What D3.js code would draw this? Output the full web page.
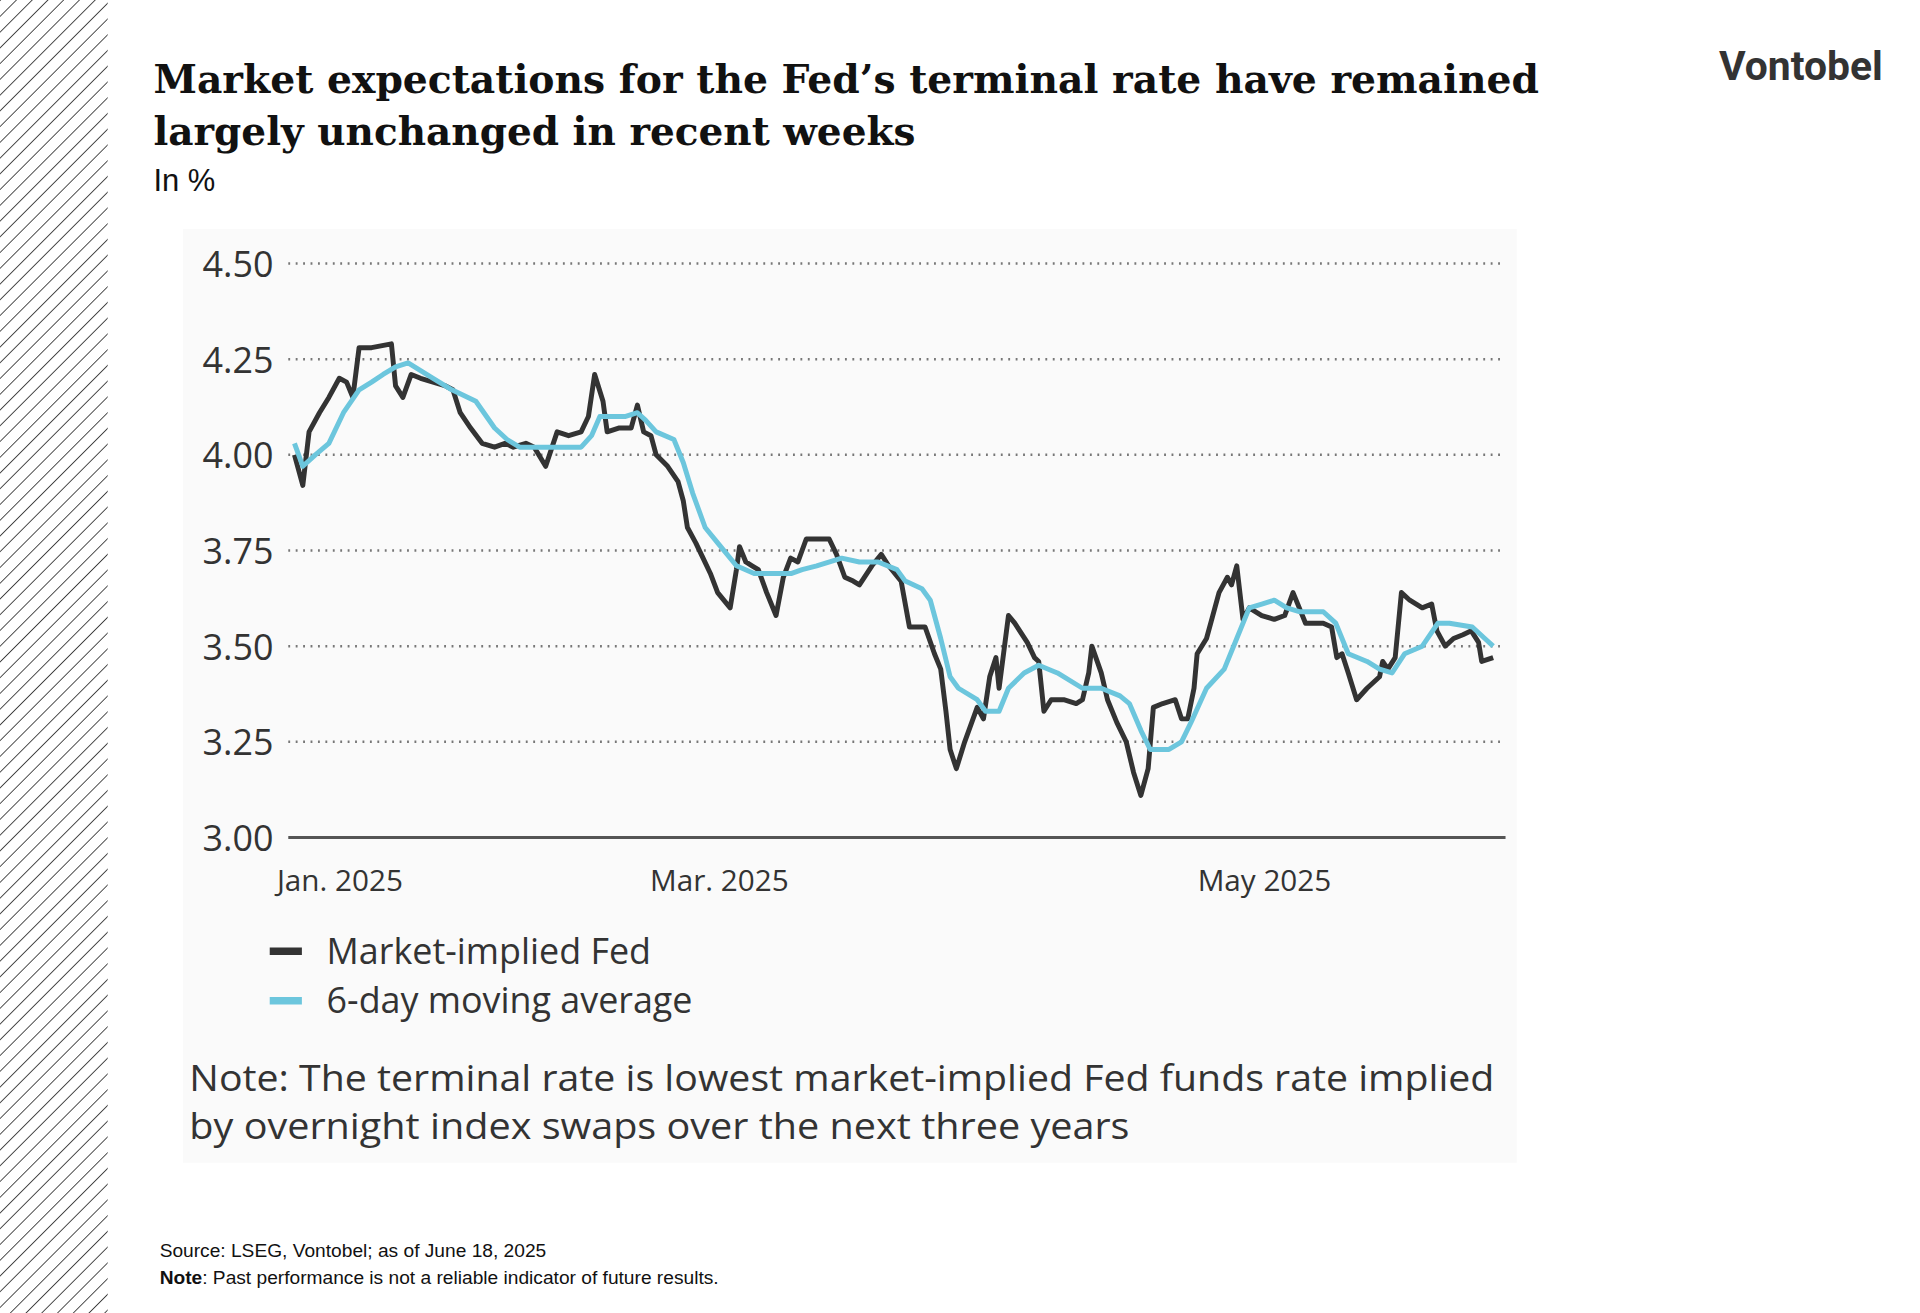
<!DOCTYPE html>
<html>
<head>
<meta charset="utf-8">
<script src="https://cdn.jsdelivr.net/npm/d3@7"></script>
<style>
  html, body { margin: 0; padding: 0; background: #fff; }
  svg { display: block; }
</style>
</head>
<body>
<svg id="chart" width="1920" height="1313"></svg>
<script>
// x values are trading-day positions, y values in %
var fedDay = [0,0.8,1.4,2.4,3.3,4.3,5.0,5.6,6.2,7.4,9.3,9.7,10.4,11.2,12.1,13.3,14.5,15.2,15.9,16.9,18.0,19.2,20.2,21.0,22.2,23.0,24.1,25.2,26.3,27.5,28.2,28.8,29.6,30.0,31.1,32.3,32.9,33.5,34.2,34.7,35.8,36.8,37.3,37.7,38.5,39.2,39.9,40.6,41.8,42.4,42.7,43.3,43.9,44.5,45.3,46.2,46.9,47.6,48.3,49.1,50.1,51.3,52.0,52.8,53.6,54.2,55.4,56.3,57.0,58.2,59.0,60.5,61.4,62.0,62.5,62.9,63.5,64.3,65.5,66.1,66.7,67.3,67.6,68.5,69.1,70.3,71.0,71.4,71.9,72.6,73.8,75.0,75.6,76.2,76.5,77.4,78.0,78.9,79.8,80.5,81.2,81.9,82.4,83.3,84.5,85.1,85.7,86.3,86.6,87.5,88.1,88.7,89.5,89.9,90.4,91.0,91.6,92.8,94.0,95.0,95.8,96.4,97.0,98.7,99.5,100.0,100.5,101.1,101.9,102.9,104.1,104.4,104.9,105.6,106.2,107.0,108.2,109.1,109.6,110.4,111.2,112.1,112.9,113.6,113.9,115.0];
var fedVal = [4.00,3.92,4.06,4.11,4.15,4.20,4.19,4.15,4.28,4.28,4.29,4.18,4.15,4.21,4.20,4.19,4.18,4.17,4.11,4.07,4.03,4.02,4.03,4.02,4.03,4.02,3.97,4.06,4.05,4.06,4.10,4.21,4.14,4.06,4.07,4.07,4.13,4.06,4.05,4.00,3.97,3.93,3.88,3.81,3.77,3.73,3.69,3.64,3.60,3.70,3.76,3.72,3.71,3.70,3.64,3.58,3.68,3.73,3.72,3.78,3.78,3.78,3.74,3.68,3.67,3.66,3.71,3.74,3.71,3.67,3.55,3.55,3.48,3.44,3.33,3.23,3.18,3.25,3.34,3.31,3.42,3.47,3.39,3.58,3.56,3.51,3.47,3.46,3.33,3.36,3.36,3.35,3.36,3.43,3.50,3.43,3.36,3.30,3.25,3.17,3.11,3.18,3.34,3.35,3.36,3.31,3.31,3.39,3.48,3.52,3.58,3.64,3.68,3.66,3.71,3.57,3.60,3.58,3.57,3.58,3.64,3.60,3.56,3.56,3.55,3.47,3.48,3.43,3.36,3.39,3.42,3.46,3.44,3.47,3.64,3.62,3.60,3.61,3.54,3.50,3.52,3.53,3.54,3.51,3.46,3.47];
var maDay = [0,0.8,2.0,3.3,4.7,6.2,7.4,8.5,9.7,10.9,12.1,13.3,15.1,17.4,19.2,20.4,21.6,22.8,24.0,25.8,27.5,28.5,29.3,30.5,31.7,32.9,33.7,34.7,36.4,37.3,38.2,39.4,40.6,42.4,44.1,45.9,47.7,48.7,50.1,52.5,54.2,56.0,57.8,58.6,60.2,61.0,62.0,62.9,63.7,65.5,66.3,67.6,68.5,70.0,71.4,73.2,75.6,77.4,79.2,80.1,81.2,82.1,83.9,85.1,86.0,87.5,89.2,90.4,91.6,92.8,94.0,95.2,96.4,98.7,99.9,101.1,102.9,104.1,105.3,106.5,108.2,109.7,110.8,113.0,114.2,115.0];
var maVal = [4.03,3.97,4.00,4.03,4.11,4.17,4.19,4.21,4.23,4.24,4.22,4.20,4.17,4.14,4.07,4.04,4.02,4.02,4.02,4.02,4.02,4.05,4.10,4.10,4.10,4.11,4.09,4.06,4.04,3.98,3.90,3.81,3.77,3.71,3.69,3.69,3.69,3.70,3.71,3.73,3.72,3.72,3.70,3.67,3.65,3.62,3.52,3.42,3.39,3.36,3.33,3.33,3.39,3.43,3.45,3.43,3.39,3.39,3.37,3.35,3.28,3.23,3.23,3.25,3.30,3.39,3.44,3.52,3.60,3.61,3.62,3.60,3.59,3.59,3.56,3.48,3.46,3.44,3.43,3.48,3.50,3.56,3.56,3.55,3.52,3.50];
var yTicks = [3.00, 3.25, 3.50, 3.75, 4.00, 4.25, 4.50];
var xTickDay = [4.3, 40.7, 93.0];
var xTickLabels = ["Jan. 2025", "Mar. 2025", "May 2025"];
var seriesNames = ["Market-implied Fed", "6-day moving average"];
var seriesColors = ["#333333", "#6cc6dd"];

var svg = d3.select("#chart").attr("viewBox", "0 0 1552 1061.4");
var sans = "'Liberation Sans', Arial, sans-serif";
var chartFont = "'Open Sans', 'Liberation Sans', sans-serif";

// hatched stripe on the left
var defs = svg.append("defs");
var pat = defs.append("pattern").attr("id", "hatch").attr("patternUnits", "userSpaceOnUse")
  .attr("width", 9).attr("height", 9).attr("patternTransform", "rotate(45)");
pat.append("line").attr("x1", 0).attr("y1", 0).attr("x2", 0).attr("y2", 9)
  .attr("stroke", "#222").attr("stroke-width", 1.3);
svg.append("rect").attr("x", 0).attr("y", 0).attr("width", 87).attr("height", 1062).attr("fill", "url(#hatch)");

// titles
var title = svg.append("text").attr("font-family", "'DejaVu Serif', 'Liberation Serif', serif")
  .attr("font-weight", "bold").attr("font-size", 32).attr("fill", "#111");
title.append("tspan").attr("x", 124).attr("y", 75).attr("textLength", 1120).attr("lengthAdjust", "spacingAndGlyphs")
  .text("Market expectations for the Fed\u2019s terminal rate have remained");
title.append("tspan").attr("x", 124).attr("y", 117).attr("textLength", 616).attr("lengthAdjust", "spacingAndGlyphs")
  .text("largely unchanged in recent weeks");
svg.append("text").attr("x", 124).attr("y", 154).attr("font-family", sans).attr("font-size", 25)
  .attr("fill", "#111").text("In %");
svg.append("text").attr("x", 1522).attr("y", 65).attr("text-anchor", "end").attr("font-family", "Roboto, 'Liberation Sans', sans-serif")
  .attr("font-weight", "bold").attr("font-size", 33).attr("fill", "#333").text("Vontobel");

// light panel
svg.append("rect").attr("x", 148).attr("y", 185).attr("width", 1078).attr("height", 755).attr("fill", "#fafafa");

var x = d3.scaleLinear().domain([0, 115]).range([238, 1207]);
var y = d3.scaleLinear().domain([3.0, 4.5]).range([677, 213]);

// gridlines
svg.append("g").selectAll("line").data(yTicks.filter(function (d) { return d > 3; })).join("line")
  .attr("x1", 233).attr("x2", 1216).attr("y1", function (d) { return y(d); }).attr("y2", function (d) { return y(d); })
  .attr("stroke", "#777").attr("stroke-width", 2).attr("stroke-dasharray", "1.5 4.5");
svg.append("line").attr("x1", 233).attr("x2", 1217).attr("y1", y(3)).attr("y2", y(3))
  .attr("stroke", "#555").attr("stroke-width", 2.5);

// y labels
var yAxis = d3.axisLeft(y).tickValues(yTicks).tickFormat(d3.format(".2f")).tickSize(0).tickPadding(0);
var yg = svg.append("g").attr("transform", "translate(221,0)").call(yAxis);
yg.select(".domain").remove();
yg.selectAll("text").attr("font-family", chartFont).attr("font-size", 29).attr("fill", "#333").attr("dy", "0.36em");

// x labels
var xAxis = d3.axisBottom(x).tickValues(xTickDay).tickFormat(function (d, i) { return xTickLabels[i]; }).tickSize(0).tickPadding(0);
var xg = svg.append("g").attr("transform", "translate(0,703)").call(xAxis);
xg.select(".domain").remove();
xg.selectAll("text").attr("font-family", chartFont).attr("font-size", 24).attr("fill", "#333").attr("dy", "0.71em");

// lines
var line = d3.line().x(function (d) { return x(d[0]); }).y(function (d) { return y(d[1]); });
var fed = fedDay.map(function (d, i) { return [d, fedVal[i]]; });
var ma = maDay.map(function (d, i) { return [d, maVal[i]]; });
svg.append("path").datum(fed).attr("d", line).attr("fill", "none").attr("stroke", seriesColors[0])
  .attr("stroke-width", 4).attr("stroke-linejoin", "round");
svg.append("path").datum(ma).attr("d", line).attr("fill", "none").attr("stroke", seriesColors[1])
  .attr("stroke-width", 4).attr("stroke-linejoin", "round");

// legend
var leg = svg.append("g").selectAll("g").data(seriesNames).join("g")
  .attr("transform", function (d, i) { return "translate(218," + (769 + i * 40) + ")"; });
leg.append("line").attr("x1", 0).attr("x2", 26).attr("y1", 0).attr("y2", 0)
  .attr("stroke", function (d, i) { return seriesColors[i]; }).attr("stroke-width", 6);
leg.append("text").attr("x", 46).attr("dy", "0.35em").attr("font-family", chartFont).attr("font-size", 29)
  .attr("fill", "#333").text(function (d) { return d; });

// note
var note = svg.append("text").attr("font-family", chartFont).attr("font-size", 29).attr("fill", "#333");
note.append("tspan").attr("x", 153).attr("y", 882).attr("textLength", 1055).attr("lengthAdjust", "spacingAndGlyphs")
  .text("Note: The terminal rate is lowest market-implied Fed funds rate implied");
note.append("tspan").attr("x", 153).attr("y", 921).attr("textLength", 760).attr("lengthAdjust", "spacingAndGlyphs")
  .text("by overnight index swaps over the next three years");

// footer
svg.append("text").attr("x", 129).attr("y", 1016).attr("font-family", sans).attr("font-size", 15.5)
  .attr("fill", "#111").text("Source: LSEG, Vontobel; as of June 18, 2025");
var f2 = svg.append("text").attr("x", 129).attr("y", 1038).attr("font-family", sans).attr("font-size", 15.5).attr("fill", "#111");
f2.append("tspan").attr("font-weight", "bold").text("Note");
f2.append("tspan").text(": Past performance is not a reliable indicator of future results.");
</script>
</body>
</html>
